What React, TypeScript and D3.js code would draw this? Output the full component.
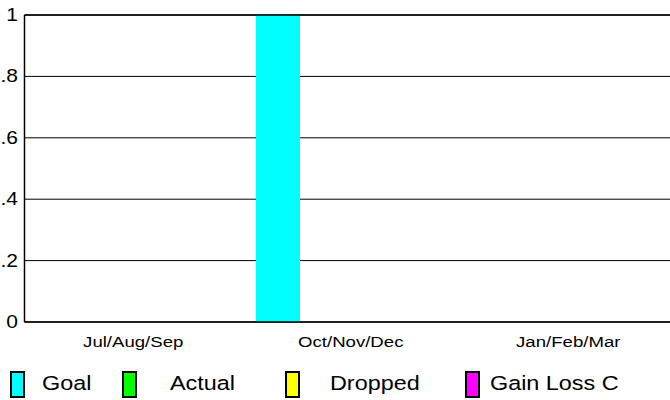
import React from "react";
import * as d3 from "d3";

const categories = ["Jul/Aug/Sep", "Oct/Nov/Dec", "Jan/Feb/Mar"];
const seriesNames = ["Goal", "Actual", "Dropped", "Gain Loss C"];
const goalValues = [0, 1, 0];
const actualValues = [0, 0, 0];
const droppedValues = [0, 0, 0];
const gainLossValues = [0, 0, 0];
const seriesColors = ["#00ffff", "#00ff00", "#ffff00", "#ff00ff"];
const yTicks = [0, 0.2, 0.4, 0.6, 0.8, 1];
const yTickLabels = ["0", ".2", ".4", ".6", ".8", "1"];

const W = 670;
const H = 400;
const plotLeft = 24.5;
const plotTop = 15;
const plotBottom = 322;
const plotRight = 677;

const legendSwatchX = [10, 122, 285, 465];
const legendTextX = [42, 170, 330, 490];

export default function App() {
  const seriesValues = [goalValues, actualValues, droppedValues, gainLossValues];
  const x = d3.scaleBand<string>().domain(categories).range([plotLeft, plotRight]).padding(0);
  const inner = d3.scaleBand<string>().domain(seriesNames).range([14, 14 + 176]).padding(0);
  const y = d3.scaleLinear().domain([0, 1]).range([plotBottom, plotTop]);
  const font = "'Liberation Sans', Arial, sans-serif";
  return (
    <svg width={W} height={H} style={{ position: "absolute", left: 0, top: 0, background: "#fff" }} fontFamily={font}>
      <defs>
        <clipPath id="legclip">
          <rect x={0} y={360} width={620} height={40} />
        </clipPath>
      </defs>
      {yTicks.map((t, i) => (
        <g key={"g" + i}>
          <line x1={plotLeft} x2={plotRight} y1={y(t)} y2={y(t)} stroke="#000" strokeWidth={1} />
          <text x={18} y={y(t) + 6} textAnchor="end" fontSize={17.5} transform={`translate(18,0) scale(1.2,1) translate(-18,0)`}>
            {yTickLabels[i]}
          </text>
        </g>
      ))}
      {categories.map((c, ci) => (
        <g key={c}>
          {seriesNames.map((s, si) => {
            const v = seriesValues[si][ci];
            if (!v) return null;
            return (
              <rect
                key={s}
                x={(x(c) as number) + (inner(s) as number)}
                width={inner.bandwidth()}
                y={y(v)}
                height={y(0) - y(v)}
                fill={seriesColors[si]}
              />
            );
          })}
        </g>
      ))}
      <line x1={plotLeft} x2={plotRight} y1={plotTop} y2={plotTop} stroke="#000" strokeWidth={1.5} />
      <line x1={plotLeft} x2={plotRight} y1={plotBottom} y2={plotBottom} stroke="#000" strokeWidth={1.5} />
      <line x1={plotLeft} x2={plotLeft} y1={plotTop} y2={plotBottom} stroke="#000" strokeWidth={1.5} />
      {categories.map((c) => {
        const cx = (x(c) as number) + x.bandwidth() / 2;
        return (
          <text key={"l" + c} x={cx} y={347} textAnchor="middle" fontSize={15.5}
            transform={`translate(${cx},0) scale(1.2,1) translate(${-cx},0)`}>
            {c}
          </text>
        );
      })}
      <g clipPath="url(#legclip)">
        {seriesNames.map((s, i) => (
          <g key={"leg" + s}>
            <rect x={legendSwatchX[i] + 1} y={372} width={13} height={25} fill={seriesColors[i]} stroke="#000" strokeWidth={2} />
            <text x={legendTextX[i]} y={390} fontSize={19.5}
              transform={`translate(${legendTextX[i]},0) scale(1.2,1) translate(${-legendTextX[i]},0)`}>
              {s}
            </text>
          </g>
        ))}
      </g>
    </svg>
  );
}
